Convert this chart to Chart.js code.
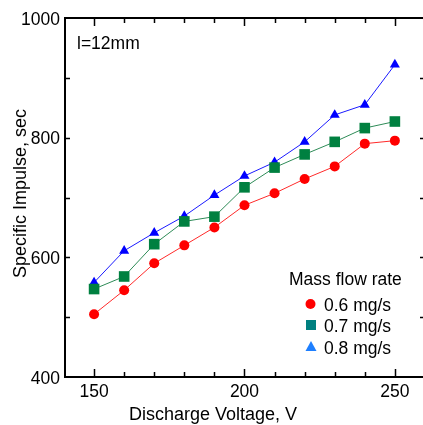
<!DOCTYPE html>
<html>
<head>
<meta charset="utf-8">
<script src="https://cdn.jsdelivr.net/npm/chart.js@4.4.1/dist/chart.umd.min.js"></script>
<style>
  html, body { margin: 0; padding: 0; overflow: hidden; background: #fff; }
  #isp { display: block; }
</style>
</head>
<body>
<canvas id="isp" width="423" height="425"></canvas>
<script>
// discharge voltage, V
const voltages = [150, 160, 170, 180, 190, 200, 210, 220, 230, 240, 250];
// specific impulse, sec, per mass flow rate
const isp06 = [505, 545, 590, 620, 650, 687, 707, 731, 752, 790, 795];
const isp07 = [547, 568, 622, 660, 668, 717, 750, 772, 793, 816, 827];
const isp08 = [558, 611, 641, 669, 704, 736, 759, 793, 838, 855, 922];

const xTickLabels = [150, 200, 250];
const yTickLabels = [400, 600, 800, 1000];
const seriesNames = ['0.6 mg/s', '0.7 mg/s', '0.8 mg/s'];

const FONT = '"Liberation Sans", Arial, sans-serif';

const toXY = (vals) => vals.map((v, i) => ({ x: voltages[i], y: v }));

// frame (right side is cut off by the picture edge), inward ticks, labels, legend
const framePlugin = {
  id: 'frame',
  afterDraw(chart) {
    const { ctx, chartArea: a, scales } = chart;
    const xs = scales.x, ys = scales.y;
    ctx.save();
    ctx.strokeStyle = '#000';
    ctx.lineWidth = 2;
    ctx.beginPath();
    ctx.moveTo(a.right + 2, a.top);
    ctx.lineTo(a.left + 1, a.top);
    ctx.lineTo(a.left + 1, a.bottom);
    ctx.lineTo(a.right + 2, a.bottom);
    ctx.stroke();

    // x ticks every 10 V, bottom and top
    ctx.lineWidth = 1.5;
    ctx.beginPath();
    for (let v = 150; v <= 250; v += 10) {
      const px = Math.round(xs.getPixelForValue(v)) + 0.5;
      const len = v % 50 === 0 ? 8 : 5;
      ctx.moveTo(px, a.bottom);
      ctx.lineTo(px, a.bottom - len);
      ctx.moveTo(px, a.top);
      ctx.lineTo(px, a.top + len);
    }
    // y ticks every 100, left and right
    for (let v = 500; v < 1000; v += 100) {
      const py = Math.round(ys.getPixelForValue(v)) + 0.5;
      ctx.moveTo(a.left, py);
      ctx.lineTo(a.left + 6, py);
      ctx.moveTo(a.right + 2, py);
      ctx.lineTo(a.right - 3, py);
    }
    ctx.stroke();

    ctx.fillStyle = '#000';
    ctx.font = '17.5px ' + FONT;
    ctx.textAlign = 'right';
    ctx.textBaseline = 'alphabetic';
    yTickLabels.forEach(v => {
      ctx.fillText(String(v), a.left - 4, ys.getPixelForValue(v) + 6.5);
    });
    ctx.textAlign = 'center';
    xTickLabels.forEach(v => {
      ctx.fillText(String(v), xs.getPixelForValue(v), 397);
    });

    // axis titles
    ctx.font = '18px ' + FONT;
    ctx.textAlign = 'left';
    ctx.fillText('Discharge Voltage, V', 129, 419.5);
    ctx.save();
    ctx.translate(26, 193.5);
    ctx.rotate(-Math.PI / 2);
    ctx.textAlign = 'center';
    ctx.fillText('Specific Impulse, sec', 0, 0);
    ctx.restore();

    ctx.font = '17.5px ' + FONT;
    ctx.textAlign = 'left';
    ctx.fillText('l=12mm', 77, 48.5);

    // legend
    ctx.font = '17.5px ' + FONT;
    ctx.fillText('Mass flow rate', 289, 285);
    const rows = [304, 325, 347];
    ctx.fillText(seriesNames[0], 324, 311);
    ctx.fillText(seriesNames[1], 324, 332);
    ctx.fillText(seriesNames[2], 324, 354);
    ctx.fillStyle = '#ff0000';
    ctx.beginPath();
    ctx.arc(310.5, rows[0], 5, 0, Math.PI * 2);
    ctx.fill();
    ctx.fillStyle = '#008080';
    ctx.fillRect(306, rows[1] - 5, 10, 10);
    ctx.fillStyle = '#1e7fff';
    ctx.beginPath();
    ctx.moveTo(311, rows[2] - 6);
    ctx.lineTo(316.5, rows[2] + 4);
    ctx.lineTo(305.5, rows[2] + 4);
    ctx.closePath();
    ctx.fill();
    ctx.restore();
  }
};

new Chart(document.getElementById('isp'), {
  type: 'line',
  data: {
    datasets: [
      {
        label: seriesNames[0],
        data: toXY(isp06),
        borderColor: '#ff2a2a',
        borderWidth: 1,
        backgroundColor: '#ff0000',
        pointStyle: 'circle',
        pointRadius: 5,
        pointBorderWidth: 0,
        pointBackgroundColor: '#ff0000'
      },
      {
        label: seriesNames[1],
        data: toXY(isp07),
        borderColor: '#2e8b57',
        borderWidth: 1,
        backgroundColor: '#008040',
        pointStyle: 'rect',
        pointRadius: 7.5,
        pointBorderWidth: 0,
        pointBackgroundColor: '#008040'
      },
      {
        label: seriesNames[2],
        data: toXY(isp08),
        borderColor: '#1a1aff',
        borderWidth: 1,
        backgroundColor: '#0000ff',
        pointStyle: 'triangle',
        pointRadius: 5.8,
        pointBorderWidth: 0,
        pointBackgroundColor: '#0000ff'
      }
    ]
  },
  options: {
    responsive: false,
    maintainAspectRatio: false,
    animation: false,
    devicePixelRatio: 1,
    layout: { autoPadding: false, padding: { left: 64, top: 18, right: 0, bottom: 48 } },
    scales: {
      // the plot box runs past the right edge of the picture
      x: { type: 'linear', min: 140, max: 259.35, display: false },
      y: { type: 'linear', min: 400, max: 1000, display: false }
    },
    plugins: {
      legend: { display: false },
      tooltip: { enabled: false }
    }
  },
  plugins: [framePlugin]
});
</script>
</body>
</html>
